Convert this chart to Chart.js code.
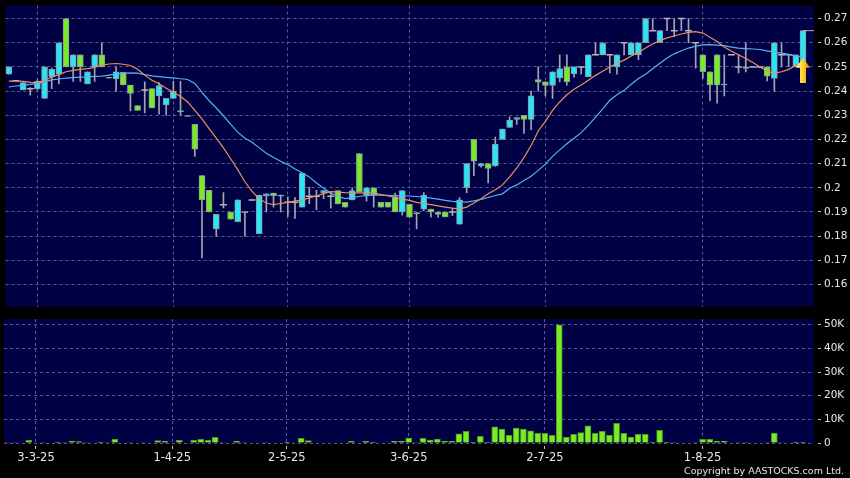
<!DOCTYPE html>
<html><head><meta charset="utf-8">
<script src="https://cdn.jsdelivr.net/npm/chart.js@4.4.1/dist/chart.umd.min.js"></script>
<style>
html,body{margin:0;padding:0;background:#000;width:850px;height:478px;overflow:hidden;}
#main{position:absolute;left:0;top:0;}
#vol{position:absolute;left:0;top:312px;}
#copy{position:absolute;right:6px;top:465px;color:#e6e6e6;font:9.5px 'DejaVu Sans';white-space:nowrap;}
</style></head><body>
<canvas id="main" width="850" height="312"></canvas>
<canvas id="vol" width="850" height="166"></canvas>
<div id="copy">Copyright by AASTOCKS.com Ltd.</div>
<script>
// ---- data (one entry per trading session, left to right) ----
const openP = [
0.247,0.2443,0.2405,0.241,0.241,0.237,0.246,0.247,0.270,0.250,
0.255,0.243,0.250,0.255,0.2457,0.245,0.2478,0.2425,0.234,0.2405,
0.241,0.238,0.2343,0.237,0.2315,0.2299,0.2262,0.205,0.199,0.183,
0.193,0.190,0.186,0.1902,0.195,0.181,0.1966,0.1978,0.1965,0.194,
0.194,0.192,0.1965,0.1965,0.198,0.1965,0.1988,0.194,0.195,0.2142,
0.197,0.200,0.194,0.194,0.1964,0.190,0.1932,0.1897,0.1912,0.1912,
0.190,0.190,0.190,0.185,0.200,0.220,0.209,0.210,0.209,0.220,
0.225,0.2283,0.230,0.2283,0.2448,0.2438,0.2423,0.2454,0.250,0.2472,
0.250,0.246,0.255,0.255,0.255,0.250,0.260,0.255,0.255,0.260,
0.265,0.260,0.270,0.265,0.270,0.265,0.260,0.255,0.248,0.255,
0.2425,0.255,0.250,0.250,0.250,0.250,0.250,0.2452,0.255,0.255,
0.250,0.250];
const highP = [
0.250,0.2443,0.2435,0.2415,0.2448,0.250,0.2495,0.260,0.270,0.255,
0.255,0.248,0.255,0.260,0.2457,0.250,0.2478,0.2425,0.234,0.2438,
0.241,0.2435,0.237,0.244,0.244,0.2299,0.2262,0.205,0.199,0.189,
0.198,0.190,0.195,0.1902,0.195,0.197,0.1975,0.1978,0.197,0.1963,
0.196,0.206,0.2003,0.199,0.1988,0.1984,0.1988,0.194,0.200,0.2142,
0.200,0.200,0.194,0.194,0.1978,0.1988,0.1932,0.1897,0.198,0.1912,
0.190,0.190,0.1915,0.196,0.210,0.220,0.210,0.210,0.221,0.2243,
0.2293,0.229,0.230,0.240,0.250,0.2438,0.248,0.255,0.255,0.250,
0.250,0.255,0.260,0.260,0.255,0.255,0.260,0.260,0.260,0.270,
0.270,0.265,0.270,0.270,0.270,0.270,0.260,0.255,0.248,0.255,
0.255,0.255,0.255,0.260,0.250,0.250,0.250,0.260,0.260,0.255,
0.255,0.265];
const lowP = [
0.247,0.2443,0.2405,0.2383,0.2405,0.237,0.241,0.243,0.250,0.244,
0.244,0.243,0.244,0.250,0.2453,0.240,0.2425,0.2318,0.232,0.231,
0.233,0.2305,0.230,0.237,0.230,0.2295,0.213,0.171,0.190,0.180,
0.1917,0.187,0.186,0.180,0.195,0.181,0.190,0.192,0.190,0.1882,
0.1873,0.192,0.1934,0.191,0.1955,0.1916,0.1933,0.192,0.195,0.1983,
0.1945,0.192,0.192,0.192,0.190,0.1887,0.1878,0.183,0.1905,0.1878,
0.1877,0.188,0.1885,0.185,0.198,0.205,0.2085,0.202,0.2088,0.220,
0.225,0.2262,0.2225,0.224,0.240,0.238,0.237,0.2438,0.2424,0.2458,
0.247,0.246,0.255,0.255,0.2475,0.247,0.255,0.255,0.253,0.260,
0.265,0.260,0.265,0.2625,0.265,0.260,0.2495,0.2452,0.236,0.235,
0.238,0.255,0.2475,0.2479,0.250,0.250,0.2442,0.240,0.250,0.250,
0.250,0.250];
const closeP = [
0.250,0.2443,0.2435,0.241,0.244,0.250,0.249,0.260,0.250,0.255,
0.250,0.248,0.255,0.250,0.2453,0.248,0.2425,0.239,0.232,0.2405,
0.233,0.2423,0.237,0.240,0.2319,0.2295,0.216,0.195,0.190,0.189,
0.193,0.187,0.195,0.1897,0.195,0.197,0.1975,0.1967,0.197,0.194,
0.194,0.206,0.1965,0.1965,0.1988,0.1965,0.1933,0.192,0.1988,0.1983,
0.200,0.197,0.192,0.192,0.190,0.1988,0.1878,0.1893,0.197,0.190,
0.189,0.188,0.190,0.195,0.210,0.211,0.210,0.208,0.218,0.2243,
0.228,0.229,0.2283,0.238,0.2437,0.2423,0.248,0.2493,0.2438,0.250,
0.250,0.255,0.255,0.260,0.255,0.255,0.260,0.260,0.260,0.270,
0.265,0.265,0.270,0.265,0.270,0.265,0.260,0.248,0.2425,0.2425,
0.2429,0.255,0.250,0.2494,0.250,0.250,0.2462,0.260,0.255,0.255,
0.255,0.265];
const maShort = [
0.2441,0.2441,0.2440,0.2436,0.2435,0.2444,0.2458,0.2468,0.2480,0.2486,
0.2490,0.2493,0.2498,0.2507,0.2512,0.2514,0.2511,0.2506,0.2490,0.2466,
0.2445,0.2430,0.2412,0.2395,0.2378,0.2355,0.2320,0.2285,0.2245,0.2205,
0.2165,0.2120,0.2075,0.2025,0.1985,0.1955,0.1937,0.1930,0.1935,0.1940,
0.1945,0.1950,0.1958,0.1966,0.1976,0.1984,0.1982,0.1980,0.1979,0.1979,
0.1979,0.1978,0.1972,0.1966,0.1960,0.1953,0.1948,0.1940,0.1935,0.1930,
0.1925,0.1920,0.1916,0.1913,0.1920,0.1937,0.1955,0.1975,0.1992,0.2012,
0.2045,0.2082,0.2125,0.2175,0.2235,0.2275,0.2320,0.2355,0.2385,0.2408,
0.2425,0.2445,0.2465,0.2482,0.2500,0.2515,0.2528,0.2545,0.2560,0.2578,
0.2595,0.2608,0.2620,0.2628,0.2636,0.2643,0.2646,0.2640,0.2623,0.2605,
0.2582,0.2565,0.2550,0.2535,0.2518,0.2500,0.2482,0.2473,0.2480,0.2490,
0.2506,0.2520];
const maLong = [
0.2417,0.2421,0.2424,0.2428,0.2432,0.2438,0.2446,0.2450,0.2454,0.2456,
0.2458,0.2459,0.2461,0.2462,0.2466,0.2470,0.2473,0.2475,0.2474,0.2468,
0.2463,0.2460,0.2457,0.2455,0.2451,0.2448,0.2432,0.2395,0.2360,0.2330,
0.2298,0.2263,0.2230,0.2205,0.2188,0.2165,0.2143,0.2125,0.2110,0.2096,
0.2078,0.2062,0.2045,0.2020,0.1998,0.1978,0.1965,0.1955,0.1958,0.1965,
0.1968,0.1970,0.1970,0.1969,0.1968,0.1967,0.1966,0.1964,0.1961,0.1957,
0.1953,0.1948,0.1944,0.1942,0.1941,0.1946,0.1952,0.1960,0.1968,0.1975,
0.1998,0.2012,0.2030,0.2048,0.2072,0.2098,0.2130,0.2157,0.2182,0.2205,
0.2228,0.2258,0.2292,0.2325,0.2362,0.2385,0.2403,0.2428,0.2452,0.2470,
0.2492,0.2515,0.2537,0.2554,0.2567,0.2578,0.2586,0.2591,0.2592,0.2590,
0.2588,0.2582,0.2578,0.2576,0.2574,0.2572,0.2566,0.2561,0.2557,0.2552,
0.2546,0.2540];
const volume = [
200,200,0,1100,0,200,0,300,200,850,
600,200,0,100,200,1500,0,200,0,200,
0,1000,700,0,1100,0,1100,1500,1100,2400,
200,0,700,200,0,0,200,0,0,300,
0,2000,1000,0,0,0,0,0,700,0,
700,300,0,0,700,700,2100,200,2000,1270,
1700,700,700,3900,4900,300,2800,300,6800,5900,
3200,6300,5900,5100,4100,4100,3200,49900,2500,3700,
4400,7300,4100,4900,3200,8300,4100,2500,3700,3700,
300,5400,300,200,0,0,200,1500,1500,700,
700,0,200,200,0,0,200,4200,200,0,
100,300];
const tickIdx  = [4, 23, 39, 56, 75, 97];
const tickText = ['3-3-25','1-4-25','2-5-25','3-6-25','2-7-25','1-8-25'];
const priceTicks = [0.16,0.17,0.18,0.19,0.20,0.21,0.22,0.23,0.24,0.25,0.26,0.27];
const volTicks = [0,10000,20000,30000,40000,50000];
const arrowLevel = [0.2486];

// ---- styling ----
const N = closeP.length, last = N - 1;
const idx = [...Array(N).keys()];
const CYAN = '#28e6f6', GREEN = '#78ea28', NAVY = '#000044';
const GRID = '#5a5a8e', TXT = '#e6e6e6', FONT = 'DejaVu Sans';
const X_MIN = -0.46, X_MAX = 112.54;

const navyBg = {id:'navyBg', beforeDraw(c){const {ctx, chartArea:a} = c; ctx.save(); ctx.fillStyle = NAVY; ctx.fillRect(a.left, a.top, a.width, a.height); ctx.restore();}};

function makeArrow(){
  const c = document.createElement('canvas'); c.width = 14; c.height = 25;
  const g = c.getContext('2d');
  const gr = g.createLinearGradient(0,0,14,0);
  gr.addColorStop(0,'#fff6b0'); gr.addColorStop(0.5,'#ffd030'); gr.addColorStop(1,'#d08c00');
  g.fillStyle = gr; g.beginPath();
  g.moveTo(7,0); g.lineTo(14,10); g.lineTo(10,10); g.lineTo(10,25); g.lineTo(4,25); g.lineTo(4,10); g.lineTo(0,10); g.closePath(); g.fill();
  return c;
}

const xAxisBase = (showLabels) => ({
  type:'linear', min:X_MIN, max:X_MAX, offset:false,
  afterBuildTicks: s => { s.ticks = tickIdx.map(v => ({value:v})); },
  ticks:{display:showLabels, autoSkip:false, maxRotation:0, color:TXT, padding:2,
         font:{family:FONT, size:11.5}, callback: v => tickText[tickIdx.indexOf(v)] ?? ''},
  grid:{color:GRID, lineWidth:1, offset:false, drawTicks:showLabels, tickLength:6, tickColor:'#c0c0c0', tickBorderDash:[0,3,3,20]},
  border:{display:false, dash:[3,3]},
  afterFit: s => { s.height = showLabels ? 35 : 0; s.paddingLeft = 0; s.paddingRight = 0; }
});

const yAxisBase = (min, max, ticksArr, fmt) => ({
  type:'linear', position:'right', min, max,
  afterBuildTicks: s => { s.ticks = ticksArr.map(v => ({value:v})); },
  ticks:{color:TXT, padding:3, font:{family:FONT, size:10.5}, callback: fmt},
  grid:{color:GRID, lineWidth:1, drawTicks:true, tickLength:7, tickColor:'#c0c0c0', tickBorderDash:[0,4,3,20]},
  border:{display:false, dash:[3,3]},
  afterFit: s => { s.width = 36; s.paddingTop = 0; s.paddingBottom = 0; }
});

const bodies = idx.filter(i => openP[i] !== closeP[i]).map(i => ({x:i, y:[openP[i], closeP[i]]}));
const dojis  = idx.filter(i => openP[i] === closeP[i]).map(i => ({x:i, y:closeP[i]}));

new Chart(document.getElementById('main'), {
  type:'bar',
  data:{datasets:[
    {type:'bar', data: idx.map(i => ({x:i, y:[lowP[i], highP[i]]})), barThickness:1, grouped:false,
     backgroundColor:'#a4a4ac', borderWidth:0, order:6},
    {type:'bar', data: bodies, barThickness:6, grouped:false, borderSkipped:false, borderWidth:1,
     backgroundColor: c => (c.raw && c.raw.y[1] >= c.raw.y[0]) ? CYAN : GREEN,
     borderColor:'#8a9aa2', order:5},
    {type:'scatter', data: dojis, pointStyle:'line', pointRadius:3.5, borderColor:'#b4b4b4', borderWidth:1.5, order:4},
    {type:'line', data: idx.map(i => ({x:i, y:maLong[i]})), borderColor:'#56b2f0', borderWidth:1.2, pointRadius:0, tension:0, order:2},
    {type:'line', data: idx.map(i => ({x:i, y:maShort[i]})), borderColor:'#e89060', borderWidth:1.2, pointRadius:0, tension:0, order:1},
    {type:'line', data: [{x:last, y:closeP[last]}, {x:last+2, y:closeP[last]}], borderColor:'#b4b4b4', borderWidth:1, pointRadius:0, order:3},
    {type:'scatter', data: [{x:last, y:arrowLevel[0]}], pointStyle: makeArrow(), order:0}
  ]},
  options:{
    responsive:false, animation:false, devicePixelRatio:1, events:[],
    layout:{padding:{left:4, top:5, right:0, bottom:5}},
    plugins:{legend:{display:false}, tooltip:{enabled:false}},
    scales:{
      x: xAxisBase(false),
      y: yAxisBase(0.1509, 0.2754, priceTicks, v => String(+v.toFixed(2)))
    }
  },
  plugins:[navyBg]
});

new Chart(document.getElementById('vol'), {
  type:'bar',
  data:{datasets:[
    {type:'bar', data: idx.map(i => ({x:i, y:volume[i]})), barThickness:6, grouped:false,
     backgroundColor:'#7aec26', borderColor:'#4c9a1a', borderWidth:1, borderSkipped:'start'}
  ]},
  options:{
    responsive:false, animation:false, devicePixelRatio:1, events:[],
    layout:{padding:{left:4, top:7, right:0, bottom:0}},
    plugins:{legend:{display:false}, tooltip:{enabled:false}},
    scales:{
      x: xAxisBase(true),
      y: yAxisBase(0, 52400, volTicks, v => v === 0 ? '0' : (v/1000) + 'K')
    }
  },
  plugins:[navyBg]
});
</script>
</body></html>
